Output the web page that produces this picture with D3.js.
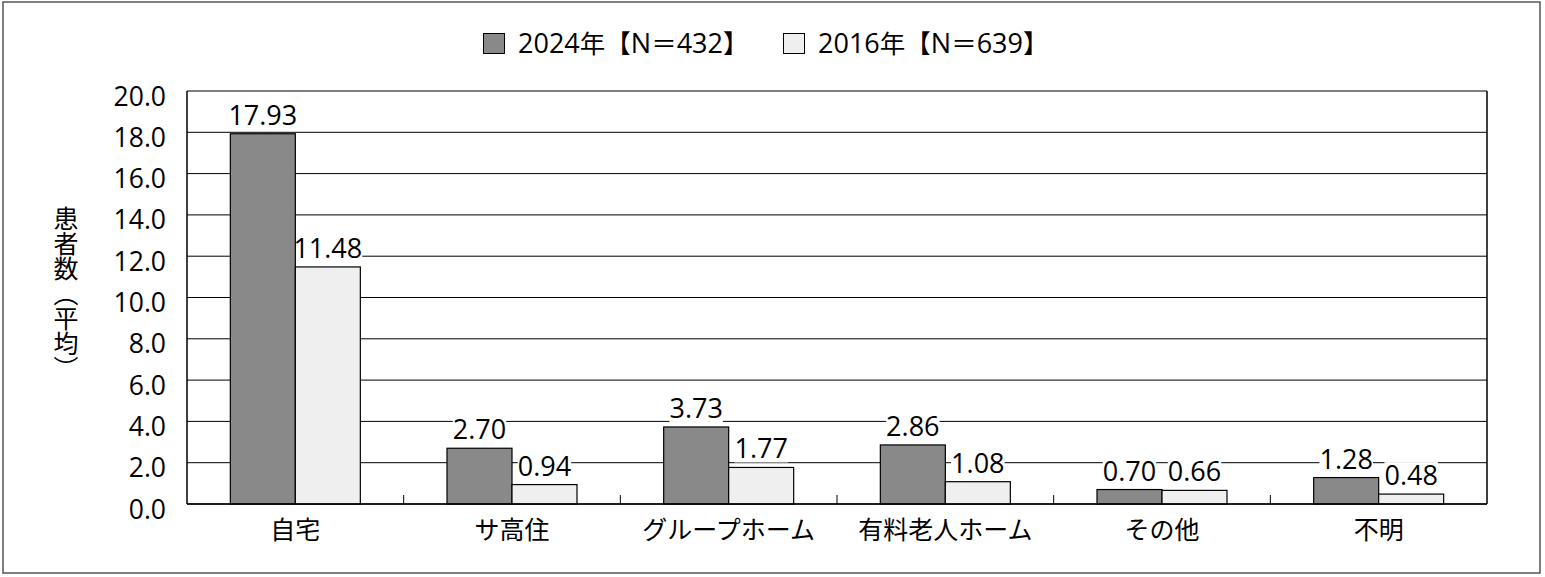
<!DOCTYPE html>
<html><head><meta charset="utf-8">
<script src="https://cdn.jsdelivr.net/npm/d3@7"></script>
<style>
html,body{margin:0;padding:0;background:#fff;}
text{font-family:"Open Sans","Noto Sans CJK JP",sans-serif;fill:#000;}
.cjk{font-family:"Noto Sans CJK JP",sans-serif;}
</style></head>
<body>
<svg id="c" width="1545" height="577"></svg>
<script>
const categories = ["自宅","サ高住","グループホーム","有料老人ホーム","その他","不明"];
const series2024 = [17.93, 2.70, 3.73, 2.86, 0.70, 1.28];
const series2016 = [11.48, 0.94, 1.77, 1.08, 0.66, 0.48];
const seriesNames = ["2024年【N＝432】","2016年【N＝639】"];
const yTicks = [0,2,4,6,8,10,12,14,16,18,20];
const colors = ["#898989","#efefef"];

const svg = d3.select("#c");
const m = {left:187, right:1487, top:91, bottom:504};

svg.append("rect").attr("x",3).attr("y",2).attr("width",1537).attr("height",571)
  .attr("fill","#fff").attr("stroke","#555").attr("stroke-width",1.5);

const x = d3.scaleBand().domain(categories).range([m.left,m.right]).paddingInner(0).paddingOuter(0);
const xs = d3.scaleBand().domain([0,1]).range([0,x.bandwidth()]).paddingInner(0).paddingOuter(0.6667);
const y = d3.scaleLinear().domain([0,20]).range([m.bottom,m.top]);

// gridlines
svg.append("g").selectAll("line").data(yTicks).join("line")
  .attr("x1",m.left).attr("x2",m.right)
  .attr("y1",d=>y(d)).attr("y2",d=>y(d))
  .attr("stroke","#000").attr("stroke-width",1);

svg.append("line").attr("x1",m.left).attr("x2",m.left).attr("y1",m.top).attr("y2",m.bottom).attr("stroke","#000").attr("stroke-width",1.5);
svg.append("line").attr("x1",m.right).attr("x2",m.right).attr("y1",m.top).attr("y2",m.bottom).attr("stroke","#000").attr("stroke-width",1.5);

// y axis labels
const yAxis = d3.axisLeft(y).tickValues(yTicks).tickFormat(d3.format(".1f")).tickSize(0).tickPadding(21);
const ya = svg.append("g").attr("transform",`translate(${m.left},0)`).call(yAxis);
ya.select(".domain").remove();
ya.selectAll("text").attr("font-size",26.5).attr("dy",null).attr("y",14)
  .style("font-family",'"Open Sans",sans-serif');

const data = categories.map((c,i)=>({c, vals:[series2024[i],series2016[i]]}));
const bgLayer = svg.append("g");
const barLayer = svg.append("g");
const labelLayer = svg.append("g");

// bars
const groups = barLayer.selectAll("g").data(data).join("g")
  .attr("transform",d=>`translate(${x(d.c)},0)`);
groups.selectAll("rect").data(d=>d.vals.map((v,k)=>({v,k}))).join("rect")
  .attr("x",d=>xs(d.k)).attr("width",xs.bandwidth())
  .attr("y",d=>y(d.v)).attr("height",d=>y(0)-y(d.v))
  .attr("fill",d=>colors[d.k]).attr("stroke","#000").attr("stroke-width",1.2);

// value labels with white bg (bg under bars)
data.forEach(d=>{
  d.vals.forEach((v,k)=>{
    const cx = x(d.c)+xs(k)+xs.bandwidth()/2;
    const t = labelLayer.append("text").attr("x",cx).attr("y",y(v)-9)
      .attr("text-anchor","middle").attr("font-size",27).text(v.toFixed(2));
    const bb = t.node().getBBox();
    bgLayer.append("rect")
      .attr("x",bb.x).attr("y",bb.y+6).attr("width",bb.width).attr("height",bb.height-10)
      .attr("fill","#fff");
  });
});

// x axis
svg.append("line").attr("x1",m.left).attr("x2",m.right).attr("y1",m.bottom).attr("y2",m.bottom).attr("stroke","#000").attr("stroke-width",1.5);
const bounds = categories.slice(1).map(c=>x(c));
svg.append("g").selectAll("line").data(bounds).join("line")
  .attr("x1",d=>d).attr("x2",d=>d).attr("y1",m.bottom).attr("y2",m.bottom-9)
  .attr("stroke","#000").attr("stroke-width",1);
svg.append("g").selectAll("text").data(categories).join("text")
  .attr("class","cjk")
  .attr("x",d=>x(d)+x.bandwidth()/2).attr("y",539)
  .attr("text-anchor","middle").attr("font-size",25).text(d=>d);

// y title vertical
svg.append("text").attr("class","cjk").attr("x",66).attr("y",206)
  .attr("font-size",25).style("writing-mode","vertical-rl")
  .attr("text-anchor","start").text("患者数（平均）");

// legend
const leg = [{x:483,k:0},{x:783,k:1}];
leg.forEach(l=>{
  svg.append("rect").attr("x",l.x+0.5).attr("y",33.5).attr("width",21).attr("height",20)
    .attr("fill",colors[l.k]).attr("stroke","#000").attr("stroke-width",1);
  const t = svg.append("text").attr("x",l.x+35).attr("y",53);
  const parts = seriesNames[l.k].match(/[0-9A-Za-z]+|[^0-9A-Za-z]+/g);
  parts.forEach(p=>{
    const latin = /^[0-9A-Za-z]+$/.test(p);
    t.append("tspan").attr("font-size",latin?27:25.5)
      .style("font-family", latin?'"Open Sans",sans-serif':'"Noto Sans CJK JP",sans-serif')
      .text(p);
  });
});
</script>
</body></html>
